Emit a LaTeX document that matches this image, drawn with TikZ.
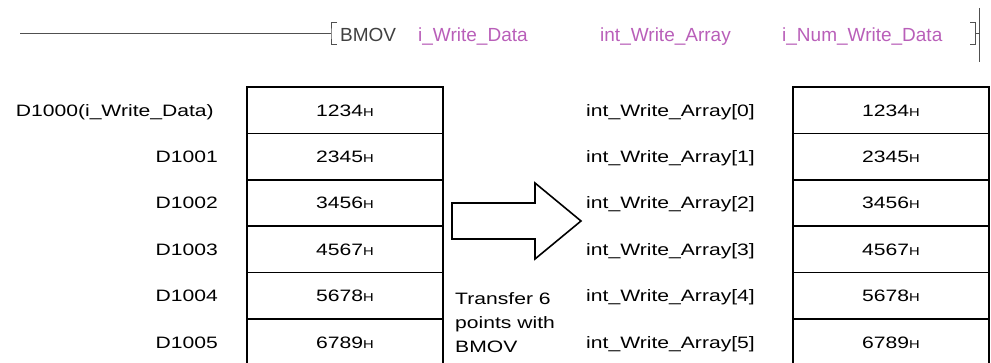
\documentclass[tikz,border=0pt]{standalone}
\usepackage{fontspec}
\setmainfont{Liberation Sans}[FakeStretch=1.28]
\newfontfamily\ladderfont{Liberation Sans}
\definecolor{argpink}{RGB}{185,95,185}
\definecolor{laddergray}{RGB}{80,80,80}
\newcommand{\hexH}{{\fontsize{11.5}{12}\selectfont H}}

\begin{document}
\begin{tikzpicture}[x=1pt, y=-1pt, font=\fontsize{16.5}{20}\selectfont,
    cell/.style={draw, line width=1.6pt, minimum width=196pt, minimum height=46.4pt,
        inner sep=0pt, text height=11.8pt, text depth=0pt},
    lbl/.style={inner sep=0pt, text height=11.8pt, text depth=0pt},
    arg/.style={inner sep=0pt, anchor=base west, font=\ladderfont\fontsize{19}{22}\selectfont}]
    \useasboundingbox (0,0) rectangle (991,363);
    \clip (0,0) rectangle (991,363);
    % The BMOV instruction on the ladder rung.
        \coordinate (rung) at (20,34);
        \coordinate (lbr) at (331,34);
        \draw[laddergray, line width=1pt] (rung) -- (lbr);
        \draw[laddergray, line width=1pt] (337,23) -| (lbr) |- (337,45);
        \node[arg, text=laddergray!80!black] (op) at (340,41.5) {BMOV};
        \node[arg, text=argpink] (s) at (418,41.5) {i\_Write\_Data};
        \node[arg, text=argpink] (d) at (600,41.5) {int\_Write\_Array};
        \node[arg, text=argpink] (n) at (782,41.5) {i\_Num\_Write\_Data};
        \coordinate (rbr) at (975,34);
        \coordinate (rail) at (979,34);
        \draw[laddergray, line width=1pt] (970,23) -| (rbr) |- (970,45);
        \draw[laddergray, line width=1pt] (rbr) -- (rail);
        \draw[laddergray, line width=1pt] (979,8) -- (979,62);
    % Source and destination cells.
    \foreach \v [count=\i from 0] in {1234,2345,3456,4567,5678,6789} {
        \node[cell] (src\i) at (345,110.2+46.4*\i) {\v\hexH};
        \node[cell] (dst\i) at (891,110.2+46.4*\i) {\v\hexH};
        \node[lbl, anchor=west] (arr\i) at (586,110.2+46.4*\i) {int\_Write\_Array[\i]};
    }
    % Below nodes are the device labels.
        \node[lbl, anchor=east] (dev0) at (214,110.2) {D1000(i\_Write\_Data)};
        \foreach \i in {1,...,5}
            \node[lbl, anchor=east] (dev\i) at (218,110.2+46.4*\i) {D100\i};
    % This draws the block arrow.
        \draw[line width=1.6pt, line join=miter] (452,203) -- (535,203) -- (535,183)
            -- (581,221) -- (535,259) -- (535,239) -- (452,239) -- cycle;
        \node[align=left, anchor=north west, inner sep=0pt,
            font=\fontsize{16.5}{24}\selectfont] (note) at (455,292)
            {Transfer 6\\points with\\BMOV};
\end{tikzpicture}
\end{document}
